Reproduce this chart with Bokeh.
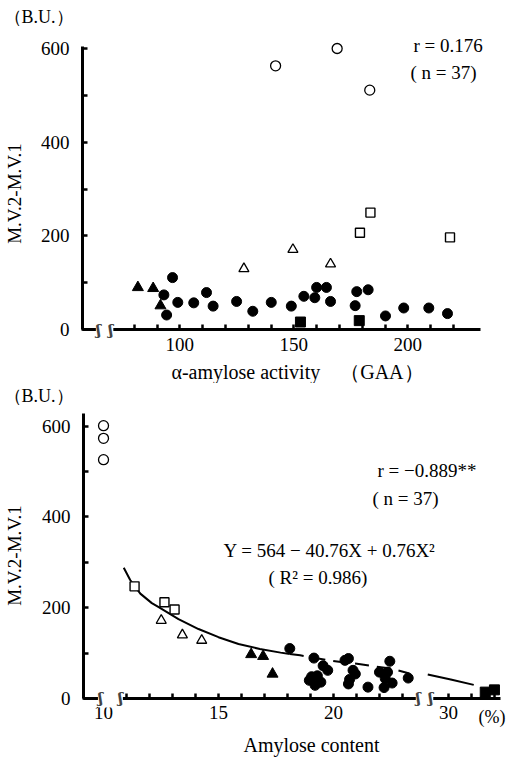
import numpy as np
from bokeh.plotting import figure
from bokeh.layouts import column
from bokeh.models import Label, FixedTicker, Range1d, LinearAxis
from bokeh.embed import file_html
from bokeh.resources import INLINE

SERIF = "Liberation Serif"

# ---------------- data: upper panel (alpha-amylose activity, GAA) ----------------
gaa_open_circle = [142.0, 169.0, 183.3]
mv_open_circle_1 = [564, 601, 512]
gaa_open_square = [183.6, 179.0, 218.5]
mv_open_square_1 = [250, 207, 197]
gaa_open_triangle = [128.1, 149.6, 166.1]
mv_open_triangle_1 = [130, 171, 140]
gaa_filled_triangle = [81.6, 88.3, 91.5]
mv_filled_triangle_1 = [90, 88, 51]
gaa_filled_square = [152.9, 178.7]
mv_filled_square_1 = [16, 19]
gaa_filled_circle = [96.8, 93.0, 99.1, 94.2, 106.1, 111.7, 114.6, 124.9, 132.0, 140.1,
                     148.9, 154.4, 159.2, 160.0, 164.3, 166.1, 176.9, 177.6, 182.6,
                     190.2, 198.2, 209.2, 217.4]
mv_filled_circle_1 = [111, 74, 58, 31, 57, 79, 50, 60, 39, 58,
                      50, 71, 68, 90, 90, 60, 51, 81, 85,
                      29, 46, 46, 34]

# ---------------- data: lower panel (amylose content, %) ----------------
amy_open_circle = [10.0, 10.0, 10.0]
mv_open_circle_2 = [601, 573, 526]
amy_open_square = [11.35, 12.65, 13.09]
mv_open_square_2 = [247, 212, 196]
amy_open_triangle = [12.51, 13.43, 14.27]
mv_open_triangle_2 = [172, 140, 128]
amy_filled_triangle = [16.42, 16.94, 17.35]
mv_filled_triangle_2 = [97, 93, 54]
amy_filled_square = [31.6, 32.0]
mv_filled_square_2 = [14, 19]
amy_filled_circle = [18.1, 19.15, 19.55, 19.75, 19.05, 18.95, 19.45, 19.2, 19.3,
                     20.5, 20.65, 20.85, 20.95, 20.7, 20.65, 21.5,
                     22.45, 22.0, 22.35, 22.25, 22.55, 22.2, 23.25]
mv_filled_circle_2 = [110, 89, 72, 62, 48, 40, 36, 29, 50,
                      84, 88, 62, 54, 42, 32, 25,
                      82, 58, 58, 44, 34, 24, 45]

# fitted curve as drawn
curve_solid_x = [10.88, 11.16, 11.6, 12.1, 12.4, 13.26, 14.13, 15.0, 15.87, 16.8, 17.7, 18.1]
curve_solid_y = [288, 261, 231, 210, 201, 175, 153, 135, 120, 109, 101, 98]
curve_dash_x = [18.1, 18.55, 19.2, 19.78, 20.5, 21.1, 21.75, 22.6, 23.3]
curve_dash_y = [98, 95, 89, 84, 79, 76, 71, 65, 55]
curve_tail_x = [29.1, 30.1, 31.1]
curve_tail_y = [53, 42, 30]

# axis ticks / labels
top_x_ticks = list(range(80, 230, 10))
top_x_labels = {100: "100", 150: "150", 200: "200"}
y_ticks = [0, 100, 200, 300, 400, 500, 600]
y_labels = {0: "0", 200: "200", 400: "400", 600: "600"}
bot_x_ticks = list(range(10, 24)) + [30, 31, 32]
bot_x_labels = {10: "10", 15: "15", 20: "20", 30: "30"}

# broken x axis of the lower panel: values above 26 % are shifted left by 5
BREAK_FROM, BREAK_SHIFT = 26, 5


def brk(v):
    v = np.asarray(v, dtype=float)
    return np.where(v > BREAK_FROM, v - BREAK_SHIFT, v)


def brk_tick(t):
    return t - BREAK_SHIFT if t > BREAK_FROM else t


def make_axes(p, x0, y_top, x_end, xticks, xlabels):
    xa = LinearAxis(fixed_location=0, bounds=(x0, x_end), ticker=FixedTicker(ticks=xticks),
                    major_label_overrides=xlabels)
    ya = LinearAxis(fixed_location=x0, bounds=(0, y_top), ticker=FixedTicker(ticks=y_ticks),
                    major_label_overrides={t: y_labels.get(t, "") for t in y_ticks})
    for ax in (xa, ya):
        ax.axis_line_width = 3
        ax.axis_line_color = "black"
        ax.major_tick_in = 5
        ax.major_tick_out = 1
        ax.major_tick_line_color = "black"
        ax.major_tick_line_width = 2.5
        ax.minor_tick_line_color = None
        ax.major_label_text_font = SERIF
        ax.major_label_text_font_size = "19px"
        ax.major_label_text_color = "black"
    ya.major_label_standoff = 12
    xa.major_label_standoff = 7
    p.add_layout(xa, "below")
    p.add_layout(ya, "left")
    return xa, ya


def base_figure(w, h, xr, yr):
    p = figure(width=w, height=h, output_backend="svg", toolbar_location=None,
               x_range=Range1d(*xr), y_range=Range1d(*yr),
               x_axis_location=None, y_axis_location=None,
               min_border=0, min_border_left=0, min_border_right=0,
               min_border_top=0, min_border_bottom=0)
    p.outline_line_color = None
    p.xgrid.grid_line_color = None
    p.ygrid.grid_line_color = None
    p.background_fill_color = "white"
    p.border_fill_color = "white"
    return p


def markers(p, xs, ys):
    (oc, os_, ot, ft, fs, fc) = xs
    (yoc, yos, yot, yft, yfs, yfc) = ys
    p.scatter(oc, yoc, marker="circle", size=10, fill_color="white", line_color="black", line_width=1.3)
    p.scatter(os_, yos, marker="square", size=9, fill_color="white", line_color="black", line_width=1.4)
    p.scatter(ot, yot, marker="triangle", size=10, fill_color="white", line_color="black", line_width=1.3)
    p.scatter(ft, yft, marker="triangle", size=11, fill_color="black", line_color="black")
    p.scatter(fs, yfs, marker="square", size=10, fill_color="black", line_color="black")
    p.scatter(fc, yfc, marker="circle", size=10, fill_color="black", line_color="black")


def text(p, s, x, y, size="19px", font=SERIF, **kw):
    p.add_layout(Label(x=x, y=y, x_units="screen", y_units="screen", text=s,
                       text_font=font, text_font_size=size, text_color="black",
                       text_baseline="middle", **kw))


def title(p, s, x, y, angle=0, size="20px"):
    p.add_layout(Label(x=x, y=y, x_units="screen", y_units="screen", text=s,
                       text_font=SERIF, text_font_size=size, text_color="black",
                       text_align="center", text_baseline="middle",
                       angle=angle, angle_units="deg"))


def brk_mark(p, x, s):
    p.add_layout(Label(x=x, y=0, text=s, text_font="DejaVu Serif", text_font_size="15px",
                       text_font_style="bold", text_align="center", text_baseline="middle",
                       background_fill_color="white", background_fill_alpha=1.0))


W = 522

# ======================= upper panel =======================
p1 = base_figure(W, 383, (21.34, 250.3), (-115.5, 703.7))
make_axes(p1, 57.3, 605, 232, top_x_ticks,
          {t: top_x_labels.get(t, "") for t in top_x_ticks})
markers(p1,
        (gaa_open_circle, gaa_open_square, gaa_open_triangle, gaa_filled_triangle, gaa_filled_square, gaa_filled_circle),
        (mv_open_circle_1, mv_open_square_1, mv_open_triangle_1, mv_filled_triangle_1, mv_filled_square_1, mv_filled_circle_1))
brk_mark(p1, 67, "ʃ\u2002ʃ")
text(p1, "（B.U.）", 3, 367, size="18px")
text(p1, "r = 0.176", 413, 338)
text(p1, "( n = 37)", 410, 311)
title(p1, "α-amylose activity\u2003（GAA）", 297, 12)
title(p1, "M.V.2-M.V.1", 14, 190, angle=90, size="19px")

# ======================= lower panel =======================
p2 = base_figure(W, 374, (5.52, 28.22), (-130.0, 693.8))
bt = [int(brk_tick(t)) for t in bot_x_ticks]
make_axes(p2, 9.13, 628, 27.26, bt,
          {int(brk_tick(t)): bot_x_labels.get(t, "") for t in bot_x_ticks})
p2.line(brk(curve_solid_x), curve_solid_y, line_color="black", line_width=2)
p2.line(brk(curve_dash_x), curve_dash_y, line_color="black", line_width=2, line_dash="14 8")
p2.line(brk(curve_tail_x), curve_tail_y, line_color="black", line_width=2)
markers(p2,
        (brk(amy_open_circle), brk(amy_open_square), brk(amy_open_triangle), brk(amy_filled_triangle),
         brk(amy_filled_square), brk(amy_filled_circle)),
        (mv_open_circle_2, mv_open_square_2, mv_open_triangle_2, mv_filled_triangle_2,
         mv_filled_square_2, mv_filled_circle_2))
brk_mark(p2, 10.3, "ʃ\u2003ʃ")
brk_mark(p2, 23.96, "ʃ\u2002ʃ")
text(p2, "（B.U.）", 3, 362, size="18px")
text(p2, "r = −0.889**", 377, 287)
text(p2, "( n = 37)", 372, 259)
text(p2, "Y = 564 − 40.76X + 0.76X²", 223, 207)
text(p2, "( R² = 0.986)", 268, 180)
text(p2, "(%)", 478, 41, size="18px")
title(p2, "Amylose content", 311, 13)
title(p2, "M.V.2-M.V.1", 14, 202, angle=90, size="19px")

layout = column(p1, p2, spacing=0)
open("out.html", "w").write(file_html(layout, INLINE))
